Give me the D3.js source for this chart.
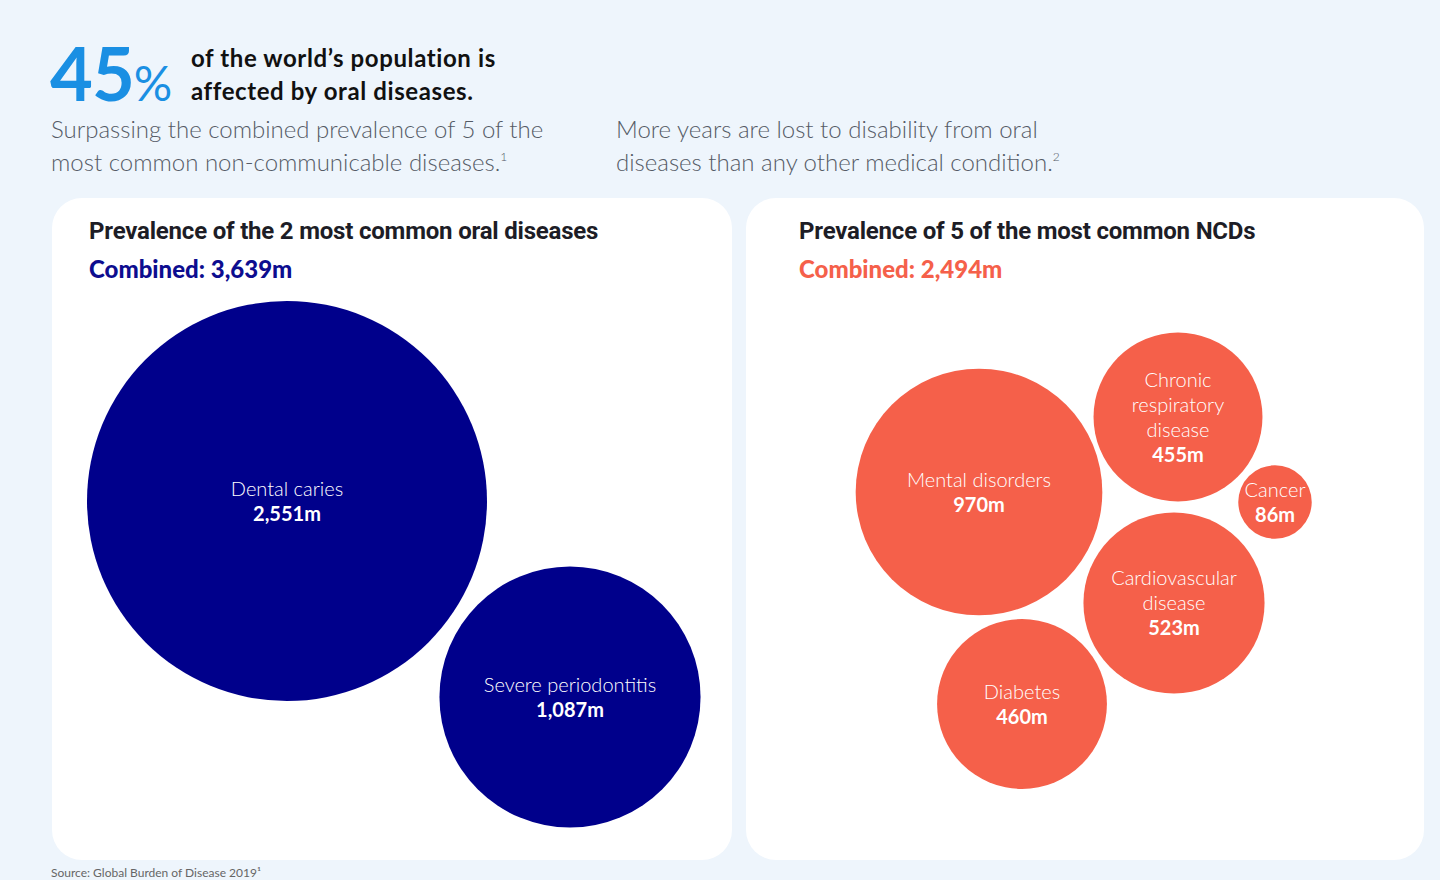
<!DOCTYPE html>
<html>
<head>
<meta charset="utf-8">
<script src="https://d3js.org/d3.v7.min.js"></script>
<style>
  body { margin:0; background:#eef5fc; font-family:Lato, "Open Sans", sans-serif; }
</style>
</head>
<body>
<svg id="chart" width="1440" height="880"></svg>
<script>
// data
var oralNames = ["Dental caries", "Severe periodontitis"];
var oralValues = [2551, 1087];
var ncdNames = [["Mental disorders"], ["Chronic", "respiratory", "disease"], ["Cancer"], ["Cardiovascular", "disease"], ["Diabetes"]];
var ncdValues = [970, 455, 86, 523, 460];
var oralTotal = "3,639m", ncdTotal = "2,494m";

// layout anchors (circle centres in the two panels)
var oralPos = [[287, 501], [570, 697]];
var ncdPos = [[979, 492], [1178, 417], [1275, 502], [1174, 603], [1022, 704]];

var svg = d3.select("#chart");
var r = d3.scaleSqrt().domain([0, 2551]).range([0, 200]);
var fmt = d3.format(",");

// header
svg.append("text").attr("x", 50).attr("y", 101).attr("fill", "#1a8fe3")
  .attr("font-size", 74).attr("font-weight", 700).attr("letter-spacing", -1).text("45")
  .append("tspan").attr("font-size", 48).attr("font-weight", 400).text("%");
[["of the world\u2019s population is", 67], ["affected by oral diseases.", 100]].forEach(function(t) {
  svg.append("text").attr("x", 191).attr("y", t[1]).attr("font-size", 24).attr("font-weight", 700)
    .attr("letter-spacing", 0.6).attr("fill", "#111").text(t[0]);
});
var sub = [[51, ["Surpassing the combined prevalence of 5 of the", "most common non-communicable diseases."], "1"],
           [616, ["More years are lost to disability from oral", "diseases than any other medical condition."], "2"]];
sub.forEach(function(s) {
  s[1].forEach(function(line, i) {
    var t = svg.append("text").attr("x", s[0]).attr("y", 138 + i * 33).attr("font-size", 24)
      .attr("font-weight", 300).attr("fill", "#555b66").text(line);
    if (i === 1) t.append("tspan").attr("font-size", 12).attr("dy", -10).text(s[2]);
  });
});

// panels
[[52, 680], [746, 678]].forEach(function(p) {
  svg.append("rect").attr("x", p[0]).attr("y", 198).attr("width", p[1]).attr("height", 662)
    .attr("rx", 30).attr("fill", "#fff");
});

function title(x, a, b, col) {
  svg.append("text").attr("x", x).attr("y", 239).attr("font-family", "Roboto, sans-serif")
    .attr("font-size", 24).attr("font-weight", 700).attr("letter-spacing", -0.2)
    .attr("fill", "#1d1d26").text(a);
  svg.append("text").attr("x", x).attr("y", 278).attr("font-size", 24)
    .attr("font-weight", 900).attr("fill", col).text(b);
}
title(89, "Prevalence of the 2 most common oral diseases", "Combined: " + oralTotal, "#0d0d8f");
title(799, "Prevalence of 5 of the most common NCDs", "Combined: " + ncdTotal, "#f5604a");

function bubbles(names, values, pos, col) {
  var g = svg.append("g").selectAll("g").data(values).join("g")
    .attr("transform", function(d, i) { return "translate(" + pos[i][0] + "," + pos[i][1] + ")"; });
  g.append("circle").attr("r", function(d) { return r(d); }).attr("fill", col);
  g.each(function(d, i) {
    var lines = [].concat(names[i]);
    var n = lines.length + 1, lh = 25;
    var y0 = -((n - 1) * lh) / 2 + 7;
    var t = d3.select(this).append("text").attr("text-anchor", "middle").attr("fill", "#fff");
    lines.forEach(function(l, k) {
      t.append("tspan").attr("x", 0).attr("y", y0 + k * lh).attr("font-size", 20)
        .attr("font-weight", 300).text(l);
    });
    t.append("tspan").attr("x", 0).attr("y", y0 + lines.length * lh).attr("font-size", 20)
      .attr("font-weight", 700).text(fmt(d) + "m");
  });
}
bubbles(oralNames, oralValues, oralPos, "#00008b");
bubbles(ncdNames, ncdValues, ncdPos, "#f5604a");

svg.append("text").attr("x", 51).attr("y", 877).attr("font-size", 12).attr("fill", "#666")
  .text("Source: Global Burden of Disease 2019\u00b9");
</script>
</body>
</html>
